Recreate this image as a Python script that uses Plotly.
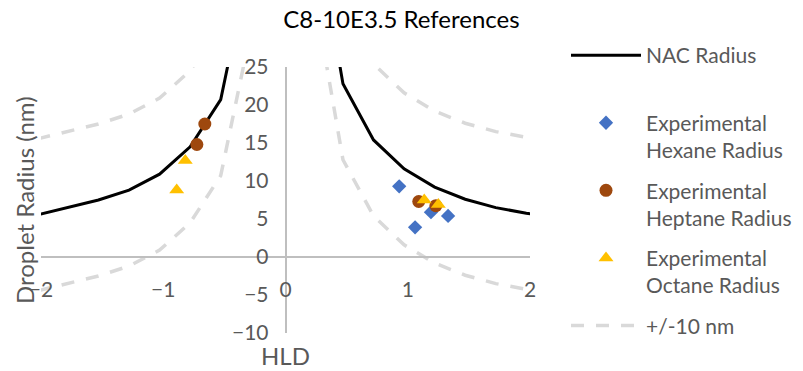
import plotly.graph_objects as go

# NAC model radius (nm) versus HLD, two branches either side of the singularity
hld_left = [-2.03, -1.78, -1.53, -1.28, -1.03, -0.78, -0.53, -0.28]
nac_left = [5.55, 6.5, 7.5, 8.8, 10.9, 14.5, 20.7, 40.0]
hld_right = [0.22, 0.47, 0.72, 0.97, 1.22, 1.47, 1.72, 1.97, 2.22]
nac_right = [46.0, 22.8, 15.4, 11.6, 9.2, 7.6, 6.5, 5.75, 5.2]
band_nm = 10  # width of the +/- envelope around the NAC curve

# Measured droplet radii
hexane_hld = [0.93, 1.06, 1.19, 1.33]
hexane_r = [9.3, 3.9, 5.9, 5.4]
heptane_hld = [-0.66, -0.725, 1.09, 1.23]
heptane_r = [17.5, 14.8, 7.3, 6.75]
octane_hld = [-0.82, -0.89, 1.135, 1.25]
octane_r = [12.7, 8.8, 7.5, 6.9]

x_ticks = [-2, -1, 0, 1, 2]
y_ticks = [-10, -5, 0, 5, 10, 15, 20, 25]
x_range = [-2, 2]
y_range = [-10, 25]

FONT = "Lato"
GREY_TEXT = "#595959"
W, H = 803, 371

# Join the branches with a gap so the curve is not drawn across HLD = 0
nac_x = hld_left + [None] + hld_right
nac_y = nac_left + [None] + nac_right
band_x = hld_left + [None] + hld_right + [None] + hld_left + [None] + hld_right
band_y = ([v + band_nm for v in nac_left] + [None]
          + [v + band_nm for v in nac_right] + [None]
          + [v - band_nm for v in nac_left] + [None]
          + [v - band_nm for v in nac_right])

fig = go.Figure()
fig.add_trace(go.Scatter(
    x=nac_x, y=nac_y, mode="lines", name="NAC Radius<br> ",
    line=dict(color="black", width=3), connectgaps=False,
    legendgroup="nac"))
fig.add_trace(go.Scatter(
    x=hexane_hld, y=hexane_r, mode="markers",
    name="Experimental<br>Hexane Radius",
    marker=dict(symbol="diamond", size=11, color="#4472C4"),
    legendgroup="hexane"))
fig.add_trace(go.Scatter(
    x=heptane_hld, y=heptane_r, mode="markers",
    name="Experimental<br>Heptane Radius",
    marker=dict(symbol="circle", size=13, color="#9E480E"),
    legendgroup="heptane"))
fig.add_trace(go.Scatter(
    x=octane_hld, y=octane_r, mode="markers",
    name="Experimental<br>Octane Radius",
    marker=dict(symbol="triangle-up", size=13, color="#FFC000"),
    legendgroup="octane"))
fig.add_trace(go.Scatter(
    x=band_x, y=band_y, mode="lines", name="+/-10 nm",
    line=dict(color="#D9D9D9", width=3.5, dash="13px,12px"),
    connectgaps=False, legendgroup="band"))

fig.update_layout(
    width=W, height=H,
    margin=dict(l=41, r=273, t=67, b=38),
    paper_bgcolor="white", plot_bgcolor="white",
    font=dict(family=FONT, color=GREY_TEXT),
    title=dict(text="C8-10E3.5 References", x=0.5, xref="container",
               y=1 - 20 / H, yref="container", yanchor="middle",
               xanchor="center", font=dict(size=24, color="#000000")),
    showlegend=True,
    legend=dict(x=566 / W, y=1 - 35 / H, xref="container", yref="container",
                xanchor="left", yanchor="top",
                traceorder="grouped", tracegroupgap=10,
                itemwidth=70, valign="top", maxheight=360,
                font=dict(size=21, color=GREY_TEXT),
                bgcolor="rgba(0,0,0,0)"),
    xaxis=dict(range=x_range, tickvals=x_ticks, showgrid=False,
               zeroline=False, showline=True, linecolor="#BFBFBF",
               linewidth=1.5, anchor="free",
               position=(0 - y_range[0]) / (y_range[1] - y_range[0]),
               ticks="", ticklabelstandoff=14,
               tickfont=dict(size=21, color=GREY_TEXT)),
    yaxis=dict(range=y_range, tickvals=y_ticks, showgrid=False,
               zeroline=False, showline=True, linecolor="#BFBFBF",
               linewidth=1.5, anchor="free",
               position=(0 - x_range[0]) / (x_range[1] - x_range[0]),
               ticks="", ticklabelstandoff=12,
               tickfont=dict(size=21, color=GREY_TEXT)),
    annotations=[
        dict(text="HLD", xref="paper", yref="paper", x=0.5,
             y=-22 / 266, xanchor="center", yanchor="middle",
             showarrow=False, font=dict(size=24, color=GREY_TEXT)),
        dict(text="Droplet Radius (nm)", xref="paper", yref="paper",
             x=-17 / 489, y=0.5, xanchor="center", yanchor="middle",
             textangle=-90, showarrow=False,
             font=dict(size=24, color=GREY_TEXT)),
    ],
)

fig.write_html("out.html")
